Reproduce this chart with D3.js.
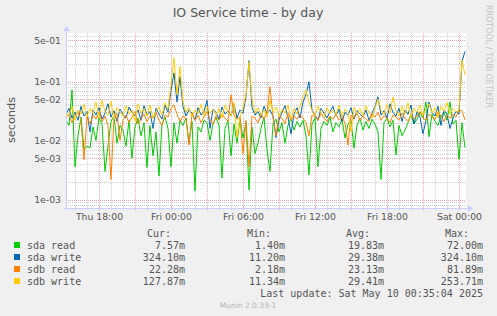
<!DOCTYPE html>
<html>
<head>
<meta charset="utf-8">
<script src="https://cdn.jsdelivr.net/npm/d3@7"></script>
<style>
  body { margin: 0; background: #f0f0f0; }
  svg { display: block; font-family: 'DejaVu Sans', sans-serif; }
  .mono { font-family: 'DejaVu Sans Mono', monospace; }
</style>
</head>
<body>
<div id="chart"></div>
<script>
// values in milliseconds, one point every 15 minutes from Thu 15:15
const seriesNames = ['sda read', 'sda write', 'sdb read', 'sdb write']
const seriesColors = ['#00cc00', '#0066b3', '#ff8000', '#ffcc00']

const sdaRead = [22, 18, 72, 3.6, 12, 25, 7, 8, 7.5, 17,
  10, 24, 19, 3.0, 8, 21, 26, 9, 18, 15,
  8, 22, 5.0, 17, 24, 12, 20, 3.5, 18, 5.5,
  14, 2.5, 19, 25, 16, 3.6, 20, 9, 22, 18,
  24, 9, 21, 1.4, 17, 14, 22, 20, 10, 19,
  25, 18, 2.3, 16, 22, 5.5, 19, 9, 24, 11,
  20, 1.45, 17, 6, 9, 16, 25, 7, 3.0, 19,
  23, 14, 20, 9, 18, 24, 15, 21, 17, 22,
  12, 2.6, 19, 24, 3.6, 16, 21, 18, 25, 14,
  20, 17, 23, 11, 19, 22, 7.4, 18, 24, 15,
  21, 16, 23, 19, 14, 2.2, 20, 24, 17, 22,
  5.7, 18, 12, 15, 20, 27, 19, 23, 30, 24,
  45, 11.6, 28, 21, 18, 26, 30, 22, 45, 19,
  22, 4.8, 20, 7.57]

const sdaWrite = [28, 35, 24, 30, 22, 38, 26, 31, 14, 33,
  27, 36, 23, 29, 42, 25, 32, 21, 34, 28,
  24, 37, 30, 26, 33, 22, 39, 27, 31, 16,
  35, 28, 23, 40, 30, 70, 140, 45, 120, 38,
  26, 33, 29, 22, 36, 27, 31, 48, 16, 34,
  30, 23, 37, 28, 32, 26, 41, 24, 33, 29,
  55, 225, 36, 27, 31, 24, 38, 29, 33, 26,
  11.2, 22, 30, 39, 25, 13, 28, 36, 24, 45,
  60, 99, 33, 27, 22, 35, 29, 24, 31, 38,
  26, 34, 21, 30, 27, 36, 23, 32, 28, 25,
  33, 22, 29, 38, 55, 27, 32, 24, 42, 30,
  26, 35, 21, 33, 28, 40, 19, 31, 25, 13,
  22, 45, 30, 26, 38, 18, 33, 28, 16, 24,
  31, 28, 220, 324.1]

const sdbRead = [24, 28, 20, 26, 31, 22, 4.7, 25, 19, 27,
  23, 30, 21, 26, 18, 2.18, 24, 29, 10, 22,
  27, 20, 25, 31, 19, 23, 28, 21, 26, 24,
  30, 22, 18, 27, 25, 35, 40, 28, 21, 26,
  24, 8.4, 29, 22, 27, 20, 25, 31, 23, 19,
  26, 22, 28, 24, 21, 60, 27, 23, 25, 6,
  22, 3.6, 26, 24, 20, 28, 23, 30, 81.89, 25,
  12, 27, 24, 19, 29, 22, 26, 23, 28, 24,
  20, 12, 27, 25, 22, 29, 24, 21, 26, 23,
  28, 22, 25, 20, 8.4, 27, 24, 29, 22, 26,
  23, 21, 28, 25, 30, 22, 26, 24, 20, 27,
  25, 22, 29, 24, 21, 27, 23, 26, 31, 24,
  22, 28, 25, 23, 30, 26, 21, 27, 24, 28,
  25, 33, 32, 22.28]

const sdbWrite = [30, 26, 38, 22, 33, 28, 41, 25, 35, 29,
  45, 24, 48, 31, 27, 46, 23, 36, 30, 26,
  39, 28, 33, 21, 42, 29, 35, 26, 40, 24,
  31, 37, 27, 44, 34, 90, 253.71, 60, 180, 45,
  30, 36, 25, 33, 28, 41, 26, 38, 29, 34,
  27, 35, 24, 40, 30, 26, 44, 11.34, 25, 36,
  60, 216, 50, 29, 36, 27, 33, 25, 48, 30,
  37, 26, 34, 29, 40, 23, 35, 28, 38, 55,
  72, 45, 32, 26, 38, 30, 24, 36, 29, 33,
  27, 40, 25, 34, 31, 14, 37, 28, 35, 26,
  39, 30, 24, 36, 50, 33, 27, 41, 29, 55,
  32, 26, 38, 28, 44, 25, 35, 30, 40, 27,
  34, 42, 29, 36, 24, 38, 31, 44, 28, 35,
  30, 33, 230, 127.87]

// legend stats (ms)
const statCur = [7.57, 324.10, 22.28, 127.87]
const statMin = [1.40, 11.20, 2.18, 11.34]
const statAvg = [19.83, 29.38, 23.13, 29.41]
const statMax = [72.00, 324.10, 81.89, 253.71]

const yTicks = [1e-3, 5e-3, 1e-2, 5e-2, 1e-1, 5e-1]
const startTime = new Date(2025, 4, 8, 15, 15)
const endTime = new Date(2025, 4, 10, 0, 35, 4)
const stepMinutes = 15

const width = 497
const height = 316
const plot = { left: 66, right: 466, top: 33, bottom: 208 }

const svg = d3
  .select('#chart')
  .append('svg')
  .attr('width', width)
  .attr('height', height)

const x = d3.scaleTime().domain([startTime, endTime]).range([plot.left, plot.right])
const y = d3.scaleLog().domain([7.18e-4, 0.664]).range([plot.bottom, plot.top])

const gridGrey = '#cfcfcf'
const gridRed = '#f2a5a5'
const axisColor = '#c8d0ff'

// plot background
svg
  .append('rect')
  .attr('x', plot.left)
  .attr('y', plot.top)
  .attr('width', plot.right - plot.left)
  .attr('height', plot.bottom - plot.top)
  .attr('fill', '#fff')

// horizontal grid
const minorY = []
for (let e = -4; e <= 0; e++) {
  for (let k = 1; k <= 9; k++) {
    const v = k * Math.pow(10, e)
    if (v >= y.domain()[0] && v <= y.domain()[1]) minorY.push({ v: v, major: k === 1 || k === 5 })
  }
}
svg
  .append('g')
  .selectAll('line')
  .data(minorY.sort((a, b) => a.major - b.major))
  .enter()
  .append('line')
  .attr('x1', plot.left)
  .attr('x2', plot.right)
  .attr('y1', d => Math.round(y(d.v)) + 0.5)
  .attr('y2', d => Math.round(y(d.v)) + 0.5)
  .attr('stroke', d => (d.major ? gridRed : gridGrey))
  .attr('stroke-dasharray', '1,1')

// vertical grid, every hour, red every 3 hours
const hours = d3.timeHour.range(d3.timeHour.ceil(startTime), endTime)
svg
  .append('g')
  .selectAll('line')
  .data(hours.sort((a, b) => (a.getHours() % 3 === 0) - (b.getHours() % 3 === 0)))
  .enter()
  .append('line')
  .attr('x1', d => Math.round(x(d)) + 0.5)
  .attr('x2', d => Math.round(x(d)) + 0.5)
  .attr('y1', plot.top)
  .attr('y2', plot.bottom + 2)
  .attr('stroke', d => (d.getHours() % 3 === 0 ? gridRed : gridGrey))
  .attr('stroke-dasharray', '1,1')

// series
const allSeries = [sdaRead, sdaWrite, sdbRead, sdbWrite]
const line = d3
  .line()
  .x((d, i) => x(d3.timeMinute.offset(startTime, i * stepMinutes)))
  .y(d => y(d / 1000))

svg
  .append('clipPath')
  .attr('id', 'clip')
  .append('rect')
  .attr('x', plot.left)
  .attr('y', plot.top)
  .attr('width', plot.right - plot.left)
  .attr('height', plot.bottom - plot.top)

svg
  .append('g')
  .attr('clip-path', 'url(#clip)')
  .selectAll('path')
  .data(allSeries)
  .enter()
  .append('path')
  .attr('d', d => line(d))
  .attr('fill', 'none')
  .attr('stroke', (d, i) => seriesColors[i])
  .attr('stroke-width', 1)

// axes lines with arrows
svg
  .append('line')
  .attr('x1', plot.left + 0.5)
  .attr('x2', plot.left + 0.5)
  .attr('y1', plot.bottom + 2)
  .attr('y2', plot.top - 3)
  .attr('stroke', axisColor)
svg
  .append('path')
  .attr('d', `M${plot.left - 3},${plot.top - 2} L${plot.left + 4},${plot.top - 2} L${plot.left + 0.5},${plot.top - 7} Z`)
  .attr('fill', axisColor)
svg
  .append('line')
  .attr('x1', plot.left - 2)
  .attr('x2', plot.right + 3)
  .attr('y1', plot.bottom + 0.5)
  .attr('y2', plot.bottom + 0.5)
  .attr('stroke', axisColor)
svg
  .append('path')
  .attr('d', `M${plot.right + 2},${plot.bottom - 3} L${plot.right + 2},${plot.bottom + 4} L${plot.right + 7},${plot.bottom + 0.5} Z`)
  .attr('fill', axisColor)

// y tick labels
function fmtExp(v) {
  const parts = v.toExponential(0).split('e')
  const n = +parts[1]
  return parts[0] + 'e' + (n < 0 ? '-' : '+') + String(Math.abs(n)).padStart(2, '0')
}
svg
  .append('g')
  .selectAll('text')
  .data(yTicks)
  .enter()
  .append('text')
  .text(d => fmtExp(d))
  .attr('x', 61)
  .attr('y', d => y(d) + 3.5)
  .attr('text-anchor', 'end')
  .attr('fill', '#555')
  .style('font-size', '9.3px')

// x tick labels, every 6 hours
const labelTimes = hours.filter(d => d.getHours() % 6 === 0).sort((a, b) => a - b)
svg
  .append('g')
  .selectAll('text')
  .data(labelTimes)
  .enter()
  .append('text')
  .text(d => d3.timeFormat('%a %H:%M')(d))
  .attr('x', d => x(d) + 0.5)
  .attr('y', 219.5)
  .attr('text-anchor', 'middle')
  .attr('fill', '#555')
  .style('font-size', '9.3px')

// title
svg
  .append('text')
  .text('IO Service time - by day')
  .attr('x', 248)
  .attr('y', 17)
  .attr('text-anchor', 'middle')
  .attr('fill', '#555')
  .style('font-size', '12.5px')

// y axis label
svg
  .append('text')
  .text('seconds')
  .attr('transform', 'translate(15,120) rotate(-90)')
  .attr('text-anchor', 'middle')
  .attr('fill', '#555')
  .style('font-size', '11.3px')

// rrdtool watermark
svg
  .append('text')
  .text('RRDTOOL / TOBI OETIKER')
  .attr('transform', 'translate(485.5,5) rotate(90)')
  .attr('text-anchor', 'start')
  .attr('fill', '#c4c4c4')
  .style('font-size', '8px')

// legend
const legend = svg.append('g').attr('class', 'mono').style('font-size', '10px').attr('fill', '#555')
const headers = [['Cur:', 171], ['Min:', 271], ['Avg:', 370], ['Max:', 469]]
headers.forEach(h => {
  legend.append('text').text(h[0]).attr('x', h[1]).attr('y', 237).attr('text-anchor', 'end')
})
const fmt = d3.format('.2f')
const cols = [[statCur, 185], [statMin, 285], [statAvg, 384], [statMax, 483]]
seriesNames.forEach((name, i) => {
  const rowY = 249 + i * 12
  legend
    .append('rect')
    .attr('x', 14)
    .attr('y', rowY - 7)
    .attr('width', 6)
    .attr('height', 6)
    .attr('fill', seriesColors[i])
  legend.append('text').text(name).attr('x', 27).attr('y', rowY)
  cols.forEach(c => {
    legend
      .append('text')
      .text(fmt(c[0][i]) + 'm')
      .attr('x', c[1])
      .attr('y', rowY)
      .attr('text-anchor', 'end')
  })
})
legend
  .append('text')
  .text('Last update: Sat May 10 00:35:04 2025')
  .attr('x', 483)
  .attr('y', 297)
  .attr('text-anchor', 'end')

svg
  .append('text')
  .text('Munin 2.0.33-1')
  .attr('x', 248)
  .attr('y', 308)
  .attr('text-anchor', 'middle')
  .attr('fill', '#b4b4b4')
  .style('font-size', '7.5px')
</script>
</body>
</html>
